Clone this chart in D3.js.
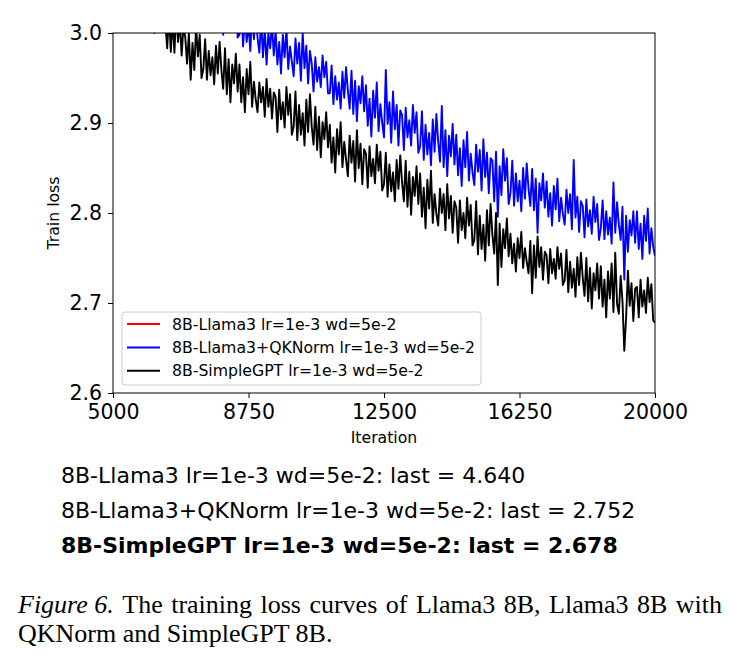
<!DOCTYPE html>
<html>
<head>
<meta charset="utf-8">
<script src="https://cdn.jsdelivr.net/npm/d3@7"></script>
<style>
  body { margin: 0; background: #fff; }
  svg { display: block; }
  .axis text { font-family: "DejaVu Sans", sans-serif; }
</style>
</head>
<body>
<svg id="chart" width="735" height="665"></svg>
<script>
// ---------- data ----------
const step = 50;

// 8B-SimpleGPT, iterations 6000..20000
const blackStart = 6000;
const blackLoss = [
  3.038, 3.008, 3.028, 3.000, 3.034, 3.014, 3.040, 3.004, 3.024, 3.010,
  2.983, 3.020, 2.979, 3.015, 2.978, 3.025, 2.990, 3.013, 2.975, 3.008,
  2.995, 2.966, 3.000, 2.948, 2.989, 2.959, 3.007, 2.974, 2.998, 2.950,
  2.960, 2.993, 2.948, 2.980, 2.953, 2.973, 2.943, 2.986, 2.955, 2.990,
  2.959, 2.938, 2.983, 2.932, 2.971, 2.923, 2.965, 2.944, 2.977, 2.935,
  2.965, 2.923, 2.951, 2.912, 2.960, 2.932, 2.968, 2.918, 2.946, 2.926,
  2.912, 2.945, 2.923, 2.940, 2.907, 2.949, 2.918, 2.938, 2.905, 2.934,
  2.929, 2.890, 2.937, 2.904, 2.923, 2.895, 2.940, 2.909, 2.932, 2.887,
  2.896, 2.935, 2.881, 2.920, 2.887, 2.911, 2.875, 2.926, 2.890, 2.932,
  2.896, 2.876, 2.918, 2.870, 2.907, 2.862, 2.901, 2.882, 2.912, 2.873,
  2.898, 2.856, 2.884, 2.845, 2.893, 2.865, 2.901, 2.851, 2.879, 2.859,
  2.841, 2.886, 2.856, 2.880, 2.835, 2.892, 2.850, 2.877, 2.832, 2.871,
  2.866, 2.828, 2.874, 2.841, 2.860, 2.833, 2.876, 2.847, 2.868, 2.825,
  2.832, 2.867, 2.818, 2.854, 2.824, 2.845, 2.813, 2.859, 2.827, 2.864,
  2.834, 2.813, 2.858, 2.807, 2.846, 2.798, 2.840, 2.819, 2.852, 2.810,
  2.844, 2.796, 2.828, 2.783, 2.837, 2.805, 2.847, 2.789, 2.821, 2.799,
  2.786, 2.827, 2.800, 2.821, 2.781, 2.832, 2.794, 2.819, 2.778, 2.813,
  2.806, 2.767, 2.814, 2.781, 2.800, 2.772, 2.817, 2.786, 2.809, 2.764,
  2.770, 2.813, 2.754, 2.797, 2.760, 2.787, 2.747, 2.803, 2.764, 2.810,
  2.776, 2.755, 2.800, 2.720, 2.788, 2.740, 2.782, 2.761, 2.794, 2.752,
  2.777, 2.744, 2.766, 2.735, 2.772, 2.750, 2.779, 2.739, 2.761, 2.746,
  2.733, 2.769, 2.711, 2.764, 2.728, 2.774, 2.740, 2.762, 2.726, 2.757,
  2.753, 2.722, 2.760, 2.733, 2.749, 2.727, 2.762, 2.738, 2.755, 2.720,
  2.725, 2.759, 2.712, 2.746, 2.717, 2.738, 2.707, 2.751, 2.720, 2.756,
  2.728, 2.708, 2.750, 2.702, 2.739, 2.694, 2.733, 2.714, 2.744, 2.705,
  2.741, 2.696, 2.726, 2.684, 2.735, 2.705, 2.744, 2.690, 2.756, 2.699,
  2.688, 2.730, 2.702, 2.647, 2.683, 2.736, 2.697, 2.722, 2.680, 2.716,
  2.718, 2.684, 2.726, 2.696, 2.714, 2.689, 2.728, 2.701, 2.721, 2.681,
  2.678
];

// 8B-Llama3+QKNorm, iterations 7500..20000
const blueStart = 7500;
const blueLoss = [
  3.026, 3.056, 3.036, 3.052, 3.022, 3.060, 3.032, 3.050, 3.020, 3.046,
  3.033, 2.998, 3.040, 3.010, 3.028, 3.003, 3.043, 3.015, 3.035, 2.995,
  2.998, 3.030, 2.985, 3.018, 2.990, 3.010, 2.980, 3.023, 2.993, 3.028,
  2.995, 2.978, 3.015, 2.973, 3.005, 2.965, 3.000, 2.983, 3.010, 2.975,
  3.003, 2.965, 2.990, 2.955, 2.998, 2.973, 3.005, 2.960, 2.985, 2.968,
  2.952, 2.994, 2.966, 2.989, 2.947, 3.000, 2.961, 2.986, 2.944, 2.980,
  2.966, 2.935, 2.973, 2.946, 2.962, 2.940, 2.975, 2.951, 2.968, 2.933,
  2.933, 2.964, 2.921, 2.952, 2.926, 2.945, 2.916, 2.957, 2.928, 2.962,
  2.936, 2.916, 2.958, 2.910, 2.947, 2.902, 2.941, 2.922, 2.952, 2.913,
  2.942, 2.897, 2.927, 2.885, 2.936, 2.906, 2.945, 2.891, 2.921, 2.900,
  2.884, 2.959, 2.899, 2.923, 2.878, 2.935, 2.893, 2.920, 2.875, 2.914,
  2.909, 2.870, 2.917, 2.884, 2.903, 2.875, 2.920, 2.889, 2.912, 2.867,
  2.874, 2.913, 2.859, 2.898, 2.865, 2.889, 2.853, 2.904, 2.868, 2.910,
  2.879, 2.857, 2.919, 2.851, 2.892, 2.841, 2.886, 2.863, 2.899, 2.854,
  2.887, 2.842, 2.872, 2.830, 2.881, 2.851, 2.890, 2.836, 2.866, 2.845,
  2.831, 2.876, 2.846, 2.870, 2.825, 2.882, 2.840, 2.867, 2.822, 2.861,
  2.858, 2.813, 2.868, 2.796, 2.852, 2.820, 2.871, 2.836, 2.861, 2.810,
  2.822, 2.858, 2.808, 2.844, 2.813, 2.836, 2.802, 2.850, 2.816, 2.855,
  2.827, 2.808, 2.849, 2.803, 2.838, 2.778, 2.833, 2.814, 2.844, 2.806,
  2.835, 2.796, 2.822, 2.786, 2.830, 2.804, 2.838, 2.791, 2.817, 2.799,
  2.787, 2.826, 2.800, 2.821, 2.782, 2.859, 2.795, 2.818, 2.779, 2.813,
  2.808, 2.773, 2.815, 2.785, 2.803, 2.777, 2.818, 2.790, 2.810, 2.770,
  2.783, 2.814, 2.771, 2.802, 2.776, 2.795, 2.766, 2.834, 2.778, 2.812,
  2.787, 2.770, 2.807, 2.726, 2.797, 2.757, 2.792, 2.775, 2.802, 2.767,
  2.802, 2.760, 2.788, 2.749, 2.797, 2.769, 2.805, 2.755, 2.783, 2.763,
  2.752
];

// 8B-Llama3 diverged, nothing inside the plotted range
const redLoss = [];

const seriesNames = [
  "8B-Llama3 lr=1e-3 wd=5e-2",
  "8B-Llama3+QKNorm lr=1e-3 wd=5e-2",
  "8B-SimpleGPT lr=1e-3 wd=5e-2"
];
const seriesColors = ["#ff0000", "#0000ff", "#000000"];
const lastValues = ["4.640", "2.752", "2.678"];

const xTicks = [5000, 8750, 12500, 16250, 20000];
const yTicks = [2.6, 2.7, 2.8, 2.9, 3.0];

// ---------- layout ----------
const plot = { left: 113, right: 655, top: 33, bottom: 393 };

const svg = d3.select("#chart");

const x = d3.scaleLinear().domain([5000, 20000]).range([plot.left, plot.right]);
const y = d3.scaleLinear().domain([2.6, 3.0]).range([plot.bottom, plot.top]);

svg.append("defs").append("clipPath").attr("id", "clip")
  .append("rect")
  .attr("x", plot.left).attr("y", plot.top)
  .attr("width", plot.right - plot.left)
  .attr("height", plot.bottom - plot.top);

const toPoints = (start, vals) => vals.map((v, i) => [start + i * step, v]);
const series = [
  toPoints(0, redLoss),
  toPoints(blueStart, blueLoss),
  toPoints(blackStart, blackLoss)
];

const line = d3.line().x(d => x(d[0])).y(d => y(d[1]));

const lines = svg.append("g").attr("clip-path", "url(#clip)");
series.forEach((pts, i) => {
  if (!pts.length) return;
  lines.append("path")
    .datum(pts)
    .attr("d", line)
    .attr("fill", "none")
    .attr("stroke", seriesColors[i])
    .attr("stroke-width", 1.9)
    .attr("stroke-linejoin", "round");
});

// frame
svg.append("rect")
  .attr("x", plot.left).attr("y", plot.top)
  .attr("width", plot.right - plot.left)
  .attr("height", plot.bottom - plot.top)
  .attr("fill", "none")
  .attr("stroke", "#000")
  .attr("stroke-width", 1);

// axes
const xAxis = svg.append("g")
  .attr("class", "axis")
  .attr("transform", `translate(0,${plot.bottom})`)
  .call(d3.axisBottom(x).tickValues(xTicks).tickFormat(d3.format("d"))
    .tickSize(5).tickPadding(6));

const yAxis = svg.append("g")
  .attr("class", "axis")
  .attr("transform", `translate(${plot.left},0)`)
  .call(d3.axisLeft(y).tickValues(yTicks).tickFormat(d3.format(".1f"))
    .tickSize(5).tickPadding(6));

[xAxis, yAxis].forEach(a => {
  a.select(".domain").remove();
  a.selectAll("text").attr("font-size", 20.5).attr("fill", "#000");
  a.selectAll("line").attr("stroke", "#000");
});

// axis labels
svg.append("text")
  .attr("x", (plot.left + plot.right) / 2)
  .attr("y", 443)
  .attr("text-anchor", "middle")
  .attr("font-family", "DejaVu Sans")
  .attr("font-size", 15.7)
  .text("Iteration");

svg.append("text")
  .attr("transform", `translate(59,${(plot.top + plot.bottom) / 2}) rotate(-90)`)
  .attr("text-anchor", "middle")
  .attr("font-family", "DejaVu Sans")
  .attr("font-size", 15.7)
  .text("Train loss");

// legend
const legend = svg.append("g");
legend.append("rect")
  .attr("x", 122).attr("y", 312)
  .attr("width", 359).attr("height", 73)
  .attr("rx", 3)
  .attr("fill", "#fff").attr("fill-opacity", 0.8)
  .attr("stroke", "#cccccc").attr("stroke-width", 1);

seriesNames.forEach((name, i) => {
  const ly = 324 + i * 23.4;
  legend.append("line")
    .attr("x1", 127).attr("x2", 160)
    .attr("y1", ly).attr("y2", ly)
    .attr("stroke", seriesColors[i])
    .attr("stroke-width", 2);
  legend.append("text")
    .attr("x", 172).attr("y", ly)
    .attr("dy", "0.36em")
    .attr("font-family", "DejaVu Sans")
    .attr("font-size", 15.7)
    .text(name);
});

// "last" summary lines
seriesNames.forEach((name, i) => {
  svg.append("text")
    .attr("x", 61)
    .attr("y", 483 + i * 35)
    .attr("font-family", "DejaVu Sans")
    .attr("font-size", 22)
    .attr("font-weight", i === 2 ? "bold" : "normal")
    .text(`${name}: last = ${lastValues[i]}`);
});

// caption (first line justified)
const capFont = 26;
const capWords = [
  { t: "Figure 6.", it: true }, { t: "The" }, { t: "training" }, { t: "loss" },
  { t: "curves" }, { t: "of" }, { t: "Llama3" }, { t: "8B," }, { t: "Llama3" },
  { t: "8B" }, { t: "with" }
];
const capLeft = 18, capRight = 722;
const cap = svg.append("g")
  .attr("font-family", "Liberation Serif, Times New Roman, serif")
  .attr("font-size", capFont);
const nodes = capWords.map(w => cap.append("text")
  .attr("y", 613)
  .attr("font-style", w.it ? "italic" : "normal")
  .text(w.t));
const widths = nodes.map(n => n.node().getComputedTextLength());
const gap = (capRight - capLeft - d3.sum(widths)) / (nodes.length - 1);
let cx = capLeft;
nodes.forEach((n, i) => { n.attr("x", cx); cx += widths[i] + gap; });

cap.append("text")
  .attr("x", capLeft).attr("y", 642)
  .text("QKNorm and SimpleGPT 8B.");
</script>
</body>
</html>
